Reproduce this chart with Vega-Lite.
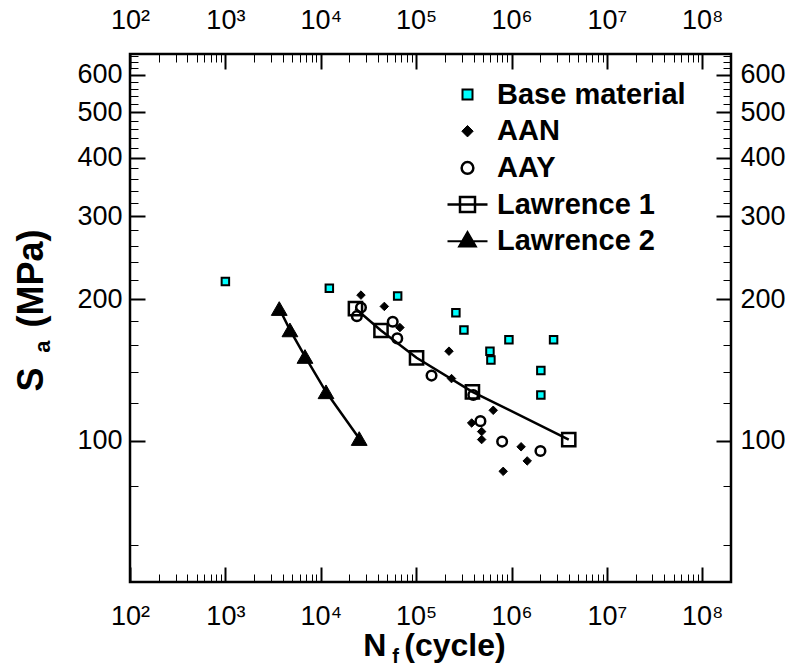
{
  "$schema": "https://vega.github.io/schema/vega-lite/v6.json",
  "autosize": {"type": "none"},
  "padding": {"left": 130, "top": 54, "right": 64, "bottom": 84},
  "width": 601,
  "height": 528,
  "background": "white",
  "config": {
    "view": {"stroke": "black", "strokeWidth": 2.5},
    "font": "Liberation Sans",
    "axis": {
      "labelFont": "Liberation Sans",
      "labelColor": "black",
      "tickColor": "black",
      "domain": false,
      "grid": false,
      "titleFont": "Liberation Sans",
      "titleFontWeight": "bold",
      "titleColor": "black"
    },
    "legend": {
      "orient": "none",
      "legendX": 323,
      "legendY": 26,
      "padding": 0,
      "labelFont": "Liberation Sans",
      "labelFontSize": 29,
      "labelFontWeight": "bold",
      "labelColor": "black",
      "labelOffset": 15,
      "labelLimit": 400,
      "rowPadding": 6.7,
      "symbolOpacity": 1
    }
  },
  "data": {
    "values": [
      {"series": "Base material", "N": 1000, "S": 218},
      {"series": "Base material", "N": 12300, "S": 211},
      {"series": "Base material", "N": 64000, "S": 203},
      {"series": "Base material", "N": 261000, "S": 187},
      {"series": "Base material", "N": 317000, "S": 172},
      {"series": "Base material", "N": 594000, "S": 155},
      {"series": "Base material", "N": 608000, "S": 148.5},
      {"series": "Base material", "N": 939000, "S": 164},
      {"series": "Base material", "N": 2030000, "S": 141},
      {"series": "Base material", "N": 2030000, "S": 125},
      {"series": "Base material", "N": 2760000, "S": 164},
      {"series": "AAN", "N": 26400, "S": 204},
      {"series": "AAN", "N": 46400, "S": 193},
      {"series": "AAN", "N": 67600, "S": 174},
      {"series": "AAN", "N": 221000, "S": 155},
      {"series": "AAN", "N": 235000, "S": 135.5},
      {"series": "AAN", "N": 643000, "S": 116},
      {"series": "AAN", "N": 382000, "S": 109},
      {"series": "AAN", "N": 486000, "S": 104.5},
      {"series": "AAN", "N": 486000, "S": 100.5},
      {"series": "AAN", "N": 1260000, "S": 97},
      {"series": "AAN", "N": 1460000, "S": 90.5},
      {"series": "AAN", "N": 818000, "S": 86},
      {"series": "AAY", "N": 26400, "S": 192},
      {"series": "AAY", "N": 23900, "S": 184},
      {"series": "AAY", "N": 56800, "S": 179},
      {"series": "AAY", "N": 63400, "S": 165},
      {"series": "AAY", "N": 145000, "S": 137.5},
      {"series": "AAY", "N": 397000, "S": 125},
      {"series": "AAY", "N": 472000, "S": 110},
      {"series": "AAY", "N": 797000, "S": 99.5},
      {"series": "AAY", "N": 2010000, "S": 95},
      {"series": "Lawrence 1", "N": 23100, "S": 191},
      {"series": "Lawrence 1", "N": 42800, "S": 171.5},
      {"series": "Lawrence 1", "N": 101000, "S": 150},
      {"series": "Lawrence 1", "N": 389000, "S": 127},
      {"series": "Lawrence 1", "N": 3980000, "S": 100.5},
      {"series": "Lawrence 2", "N": 3670, "S": 191},
      {"series": "Lawrence 2", "N": 4750, "S": 172},
      {"series": "Lawrence 2", "N": 6830, "S": 151},
      {"series": "Lawrence 2", "N": 11350, "S": 127},
      {"series": "Lawrence 2", "N": 25300, "S": 101}
    ]
  },
  "layer": [
    {
      "transform": [{"filter": "datum.series === 'Lawrence 1' || datum.series === 'Lawrence 2'"}],
      "mark": {"type": "line", "color": "black", "strokeWidth": 2.5},
      "encoding": {
        "x": {
          "field": "N", "type": "quantitative",
          "scale": {"type": "log", "domain": [100, 200000000], "nice": false, "zero": false},
          "axis": {
            "orient": "top",
            "values": [100,200,300,400,500,600,700,800,900,1000,2000,3000,4000,5000,6000,7000,8000,9000,10000,20000,30000,40000,50000,60000,70000,80000,90000,100000,200000,300000,400000,500000,600000,700000,800000,900000,1000000,2000000,3000000,4000000,5000000,6000000,7000000,8000000,9000000,10000000,20000000,30000000,40000000,50000000,60000000,70000000,80000000,90000000,100000000],
            "labelExpr": "datum.value==100?'10²':datum.value==1000?'10³':datum.value==10000?'10⁴':datum.value==100000?'10⁵':datum.value==1000000?'10⁶':datum.value==10000000?'10⁷':datum.value==100000000?'10⁸':''",
            "labelFontSize": 27,
            "tickSize": {"condition": {"test": "indexof([100,1000,10000,100000,1000000,10000000,100000000], datum.value) >= 0", "value": -15}, "value": -8},
            "tickWidth": {"condition": {"test": "indexof([100,1000,10000,100000,1000000,10000000,100000000], datum.value) >= 0", "value": 2}, "value": 1},
            "labelPadding": 35,
            "labelFlush": false,
            "labelOverlap": false,
            "title": "f",
            "titleFontSize": 20,
            "titleX": 265,
            "titleY": 602,
            "titleAlign": "center",
            "titleBaseline": "middle"
          }
        },
        "y": {
          "field": "S", "type": "quantitative",
          "scale": {"type": "log", "domain": [50, 665], "nice": false, "zero": false},
          "axis": {
            "orient": "right",
            "values": [60,80,100,120,140,160,180,200,220,240,260,280,300,320,340,360,380,400,420,440,460,480,500,520,540,560,580,600,620,640,660],
            "labelExpr": "datum.value % 100 == 0 ? datum.value + '' : ''",
            "labelFontSize": 27,
            "tickSize": {"condition": {"test": "datum.value % 100 == 0", "value": -15}, "value": -8},
            "tickWidth": {"condition": {"test": "datum.value % 100 == 0", "value": 2}, "value": 1},
            "labelPadding": 24,
            "labelFlush": false,
            "labelOverlap": false,
            "title": "a",
            "titleFontSize": 22,
            "titleAngle": -90,
            "titleX": -689,
            "titleY": 292,
            "titleAlign": "center",
            "titleBaseline": "middle"
          }
        },
        "detail": {"field": "series", "type": "nominal"}
      }
    },
    {
      "mark": {"type": "point", "stroke": "black", "opacity": 1},
      "encoding": {
        "x": {
          "field": "N", "type": "quantitative",
          "scale": {"type": "log", "domain": [100, 200000000], "nice": false, "zero": false},
          "axis": {
            "orient": "bottom",
            "values": [100,200,300,400,500,600,700,800,900,1000,2000,3000,4000,5000,6000,7000,8000,9000,10000,20000,30000,40000,50000,60000,70000,80000,90000,100000,200000,300000,400000,500000,600000,700000,800000,900000,1000000,2000000,3000000,4000000,5000000,6000000,7000000,8000000,9000000,10000000,20000000,30000000,40000000,50000000,60000000,70000000,80000000,90000000,100000000],
            "labelExpr": "datum.value==100?'10²':datum.value==1000?'10³':datum.value==10000?'10⁴':datum.value==100000?'10⁵':datum.value==1000000?'10⁶':datum.value==10000000?'10⁷':datum.value==100000000?'10⁸':''",
            "labelFontSize": 27,
            "tickSize": {"condition": {"test": "indexof([100,1000,10000,100000,1000000,10000000,100000000], datum.value) >= 0", "value": -15}, "value": -8},
            "tickWidth": {"condition": {"test": "indexof([100,1000,10000,100000,1000000,10000000,100000000], datum.value) >= 0", "value": 2}, "value": 1},
            "labelPadding": 36,
            "labelFlush": false,
            "labelOverlap": false,
            "title": "N\u00a0\u00a0(cycle)",
            "titleFontSize": 32,
            "titleX": 304,
            "titleY": 63,
            "titleAlign": "center",
            "titleBaseline": "middle"
          }
        },
        "y": {
          "field": "S", "type": "quantitative",
          "scale": {"type": "log", "domain": [50, 665], "nice": false, "zero": false},
          "axis": {
            "orient": "left",
            "values": [60,80,100,120,140,160,180,200,220,240,260,280,300,320,340,360,380,400,420,440,460,480,500,520,540,560,580,600,620,640,660],
            "labelExpr": "datum.value % 100 == 0 ? datum.value + '' : ''",
            "labelFontSize": 27,
            "tickSize": {"condition": {"test": "datum.value % 100 == 0", "value": -15}, "value": -8},
            "tickWidth": {"condition": {"test": "datum.value % 100 == 0", "value": 2}, "value": 1},
            "labelPadding": 23,
            "labelFlush": false,
            "labelOverlap": false,
            "title": "S\u00a0\u00a0\u00a0\u00a0(MPa)",
            "titleFontSize": 36,
            "titleAngle": -90,
            "titleX": -99,
            "titleY": 256,
            "titleAlign": "center",
            "titleBaseline": "middle"
          }
        },
        "shape": {
          "condition": [
            {"test": "datum.series === 'AAN'", "value": "diamond"},
            {"test": "datum.series === 'AAY'", "value": "circle"},
            {"test": "datum.series === 'Lawrence 2'", "value": "triangle-up"}
          ],
          "value": "square"
        },
        "fill": {
          "field": "series", "type": "nominal",
          "scale": {"domain": ["Base material", "AAN", "AAY", "Lawrence 1", "Lawrence 2"], "range": ["#00ffff", "black", "transparent", "transparent", "black"]},
          "legend": {"title": null}
        },
        "size": {
          "condition": [
            {"test": "datum.series === 'AAN'", "value": 72},
            {"test": "datum.series === 'AAY'", "value": 92},
            {"test": "datum.series === 'Lawrence 1'", "value": 174},
            {"test": "datum.series === 'Lawrence 2'", "value": 250}
          ],
          "value": 56
        },
        "strokeWidth": {
          "condition": [
            {"test": "datum.series === 'AAN'", "value": 1},
            {"test": "datum.series === 'AAY'", "value": 2.5},
            {"test": "datum.series === 'Lawrence 1'", "value": 2.5},
            {"test": "datum.series === 'Lawrence 2'", "value": 1}
          ],
          "value": 2
        }
      }
    },
    {
      "transform": [{"filter": "false"}],
      "mark": {"type": "point", "opacity": 1, "filled": true},
      "encoding": {
        "shape": {
          "field": "series", "type": "nominal",
          "scale": {"domain": ["Base material", "AAN", "AAY", "Lawrence 1", "Lawrence 2"], "range": ["square", "diamond", "circle", "M-2,0L2,0M-0.75,-0.75L0.75,-0.75L0.75,0.75L-0.75,0.75Z", "M-2,0L2,0M0,-0.92L0.84,0.52L-0.84,0.52Z"]},
          "legend": {
            "title": null,
            "labelExpr": "datum.value === 'AAN' ? '\u00a0AAN' : datum.value === 'AAY' ? '\u00a0AAY' : datum.value"
          }
        },
        "fill": {
          "field": "series", "type": "nominal",
          "scale": {"domain": ["Base material", "AAN", "AAY", "Lawrence 1", "Lawrence 2"], "range": ["#00ffff", "black", "transparent", "transparent", "black"]},
          "legend": {"title": null}
        },
        "stroke": {
          "field": "series", "type": "nominal",
          "scale": {"domain": ["Base material", "AAN", "AAY", "Lawrence 1", "Lawrence 2"], "range": ["black", "black", "black", "black", "black"]},
          "legend": {"title": null}
        },
        "size": {
          "field": "series", "type": "nominal",
          "scale": {"type": "ordinal", "domain": ["Base material", "AAN", "AAY", "Lawrence 1", "Lawrence 2"], "range": [100, 130, 137, 400, 400]},
          "legend": {"title": null}
        },
        "strokeWidth": {
          "field": "series", "type": "nominal",
          "scale": {"type": "ordinal", "domain": ["Base material", "AAN", "AAY", "Lawrence 1", "Lawrence 2"], "range": [2, 1, 2.5, 2.5, 2]},
          "legend": {"title": null}
        }
      }
    }
  ],
  "resolve": {
    "scale": {"x": "independent", "y": "independent"},
    "axis": {"x": "independent", "y": "independent"}
  }
}
